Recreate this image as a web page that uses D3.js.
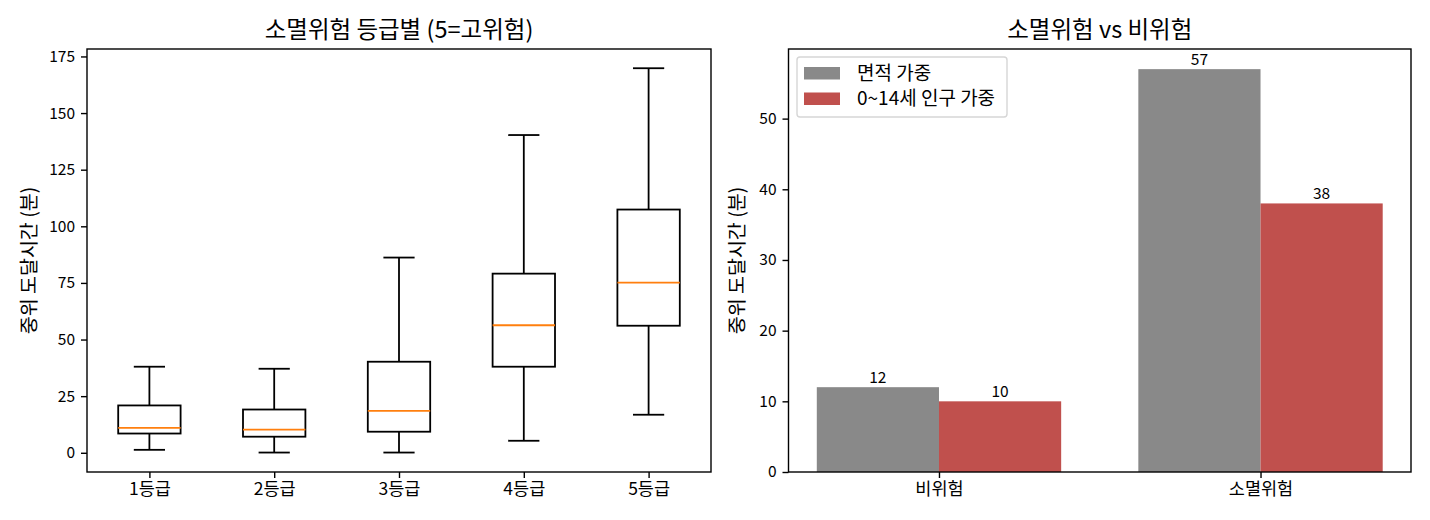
<!DOCTYPE html>
<html>
<head>
<meta charset="utf-8">
<script src="https://cdn.jsdelivr.net/npm/d3@7"></script>
<style>
	body { margin: 0; background: #fff; }
	svg { display: block; font-family: "Noto Sans CJK KR", "Noto Sans", sans-serif; }
	.axis path, .axis line { stroke: #000; stroke-width: 1.4px; }
	.axis text { font-family: "Noto Sans CJK KR", "Noto Sans", sans-serif; font-size: 15.5px; fill: #000; }
	.x.axis text { font-size: 17.5px; }
</style>
</head>
<body>
<div class="chart"></div>
<script>
//---->DATA<-----//
const grades = ['1등급', '2등급', '3등급', '4등급', '5등급'];
const whiskerLow = [1.3, 0.1, 0.1, 5.3, 16.8];
const q1 = [8.5, 7.1, 9.3, 38.0, 56.1];
const median = [11.0, 10.2, 18.5, 56.3, 75.1];
const q3 = [20.9, 19.1, 40.2, 79.1, 107.4];
const whiskerHigh = [38.0, 37.1, 86.2, 140.3, 169.8];

const groups = ['비위험', '소멸위험'];
const seriesNames = ['면적 가중', '0~14세 인구 가중'];
const areaWeighted = [12, 57];
const childWeighted = [10, 38];
const seriesColors = ['#898989', '#c0504d'];

const yLabel = '중위 도달시간 (분)';
const boxTicks = [0, 25, 50, 75, 100, 125, 150, 175];
const barTicks = [0, 10, 20, 30, 40, 50];

const outerW = 1430,
	outerH = 520;

const svg = d3.select('.chart').append('svg')
	.attr('width', outerW)
	.attr('height', outerH);

svg.append('rect')
	.attr('width', outerW)
	.attr('height', outerH)
	.attr('fill', '#fff');

// shared plot box height
const plotTop = 49,
	h = 423;

const lw = 1.8; // 1pt line at this resolution

function frame(g, w) {
	g.append('rect')
		.attr('width', w)
		.attr('height', h)
		.attr('fill', 'none')
		.attr('stroke', '#000')
		.attr('stroke-width', 1.4);
}

function title(g, w, text) {
	g.append('text')
		.attr('x', w / 2)
		.attr('y', -11)
		.attr('text-anchor', 'middle')
		.style('font-size', '23.5px')
		.text(text);
}

function ylabel(g, text, dx) {
	g.append('text')
		.attr('transform', `translate(${dx}, ${h / 2}) rotate(-90)`)
		.attr('text-anchor', 'middle')
		.style('font-size', '19.5px')
		.text(text);
}

//---->LEFT: BOX PLOT<-----//
(function() {
	const left = 87,
		w = 624;

	const g = svg.append('g')
		.attr('transform', `translate(${left}, ${plotTop})`);

	const x = d3.scaleLinear().domain([0.5, 5.5]).range([0, w]);
	const y = d3.scaleLinear().domain([-8.49, 178.29]).range([h, 0]);

	g.append('g')
		.attr('class', 'x axis')
		.attr('transform', `translate(0, ${h})`)
		.call(d3.axisBottom(x)
			.tickValues(d3.range(1, 6))
			.tickFormat(d => grades[d - 1])
			.tickSize(6)
			.tickSizeOuter(0)
			.tickPadding(5)
		)
		.call(a => a.select('.domain').remove());

	g.append('g')
		.attr('class', 'y axis')
		.call(d3.axisLeft(y)
			.tickValues(boxTicks)
			.tickSize(6)
			.tickSizeOuter(0)
			.tickPadding(6)
		)
		.call(a => a.select('.domain').remove());

	const stats = grades.map((d, i) => ({
		pos: i + 1,
		lo: whiskerLow[i],
		q1: q1[i],
		med: median[i],
		q3: q3[i],
		hi: whiskerHigh[i]
	}));

	const bw = x(1.25) - x(1),
		cw = bw / 2;

	const boxes = g.selectAll('.box')
		.data(stats)
		.enter().append('g')
		.attr('class', 'box')
		.attr('stroke', '#000')
		.attr('stroke-width', lw);

	// whiskers
	boxes.append('line')
		.attr('x1', d => x(d.pos)).attr('x2', d => x(d.pos))
		.attr('y1', d => y(d.q3)).attr('y2', d => y(d.hi));
	boxes.append('line')
		.attr('x1', d => x(d.pos)).attr('x2', d => x(d.pos))
		.attr('y1', d => y(d.q1)).attr('y2', d => y(d.lo));

	// caps
	boxes.append('line')
		.attr('x1', d => x(d.pos) - cw).attr('x2', d => x(d.pos) + cw)
		.attr('y1', d => y(d.hi)).attr('y2', d => y(d.hi));
	boxes.append('line')
		.attr('x1', d => x(d.pos) - cw).attr('x2', d => x(d.pos) + cw)
		.attr('y1', d => y(d.lo)).attr('y2', d => y(d.lo));

	boxes.append('rect')
		.attr('x', d => x(d.pos) - bw)
		.attr('y', d => y(d.q3))
		.attr('width', bw * 2)
		.attr('height', d => y(d.q1) - y(d.q3))
		.attr('fill', 'none');

	boxes.append('line')
		.attr('x1', d => x(d.pos) - bw).attr('x2', d => x(d.pos) + bw)
		.attr('y1', d => y(d.med)).attr('y2', d => y(d.med))
		.attr('stroke', '#ff7f0e');

	frame(g, w);
	title(g, w, '소멸위험 등급별 (5=고위험)');
	ylabel(g, yLabel, -51);
})();

//---->RIGHT: GROUPED BAR<-----//
(function() {
	const left = 788.5,
		w = 622.5,
		bw = 0.38;

	const g = svg.append('g')
		.attr('transform', `translate(${left}, ${plotTop})`);

	const x = d3.scaleLinear().domain([-0.468, 1.468]).range([0, w]);
	const y = d3.scaleLinear().domain([0, 59.85]).range([h, 0]);

	const series = [areaWeighted, childWeighted];
	const bars = [];
	series.forEach((vals, s) => {
		vals.forEach((v, i) => {
			bars.push({
				x0: i + (s === 0 ? -bw : 0),
				v: v,
				color: seriesColors[s]
			});
		});
	});

	g.selectAll('.bar')
		.data(bars)
		.enter().append('rect')
		.attr('class', 'bar')
		.attr('x', d => x(d.x0))
		.attr('y', d => y(d.v))
		.attr('width', d => x(d.x0 + bw) - x(d.x0))
		.attr('height', d => y(0) - y(d.v))
		.attr('fill', d => d.color);

	g.selectAll('.bar-label')
		.data(bars)
		.enter().append('text')
		.attr('class', 'bar-label')
		.attr('x', d => x(d.x0 + bw / 2))
		.attr('y', d => y(d.v) - 4)
		.attr('text-anchor', 'middle')
		.style('font-size', '15.5px')
		.text(d => d3.format('.0f')(d.v));

	g.append('g')
		.attr('class', 'x axis')
		.attr('transform', `translate(0, ${h})`)
		.call(d3.axisBottom(x)
			.tickValues([0, 1])
			.tickFormat(d => groups[d])
			.tickSize(6)
			.tickSizeOuter(0)
			.tickPadding(5)
		)
		.call(a => a.select('.domain').remove());

	g.append('g')
		.attr('class', 'y axis')
		.call(d3.axisLeft(y)
			.tickValues(barTicks)
			.tickSize(6)
			.tickSizeOuter(0)
			.tickPadding(6)
		)
		.call(a => a.select('.domain').remove());

	frame(g, w);
	title(g, w, '소멸위험 vs 비위험');
	ylabel(g, yLabel, -45);

	// legend
	const lg = g.append('g')
		.attr('transform', 'translate(8.5, 8)');

	lg.append('rect')
		.attr('width', 210)
		.attr('height', 60)
		.attr('rx', 3)
		.attr('fill', '#fff')
		.attr('fill-opacity', 0.8)
		.attr('stroke', '#d6d6d6')
		.attr('stroke-width', 1.4);

	const items = lg.selectAll('.legend-item')
		.data(seriesNames)
		.enter().append('g')
		.attr('class', 'legend-item')
		.attr('transform', (d, i) => `translate(7, ${10 + i * 25.5})`);

	items.append('rect')
		.attr('width', 36)
		.attr('height', 12.5)
		.attr('fill', (d, i) => seriesColors[i]);

	items.append('text')
		.attr('x', 53)
		.attr('y', 12.5)
		.style('font-size', '19px')
		.text(d => d);
})();
</script>
</body>
</html>
